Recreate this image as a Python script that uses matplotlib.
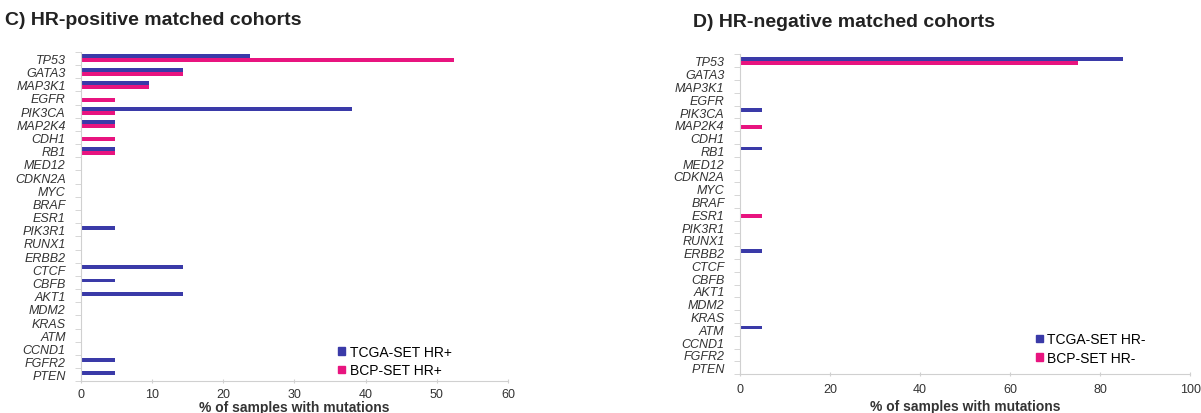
import numpy as np
import matplotlib
matplotlib.use('Agg')
import matplotlib.pyplot as plt
from matplotlib.patches import Patch

plt.rcParams['font.family'] = ['Liberation Sans', 'DejaVu Sans']

genes = ['TP53', 'GATA3', 'MAP3K1', 'EGFR', 'PIK3CA', 'MAP2K4', 'CDH1', 'RB1',
         'MED12', 'CDKN2A', 'MYC', 'BRAF', 'ESR1', 'PIK3R1', 'RUNX1', 'ERBB2',
         'CTCF', 'CBFB', 'AKT1', 'MDM2', 'KRAS', 'ATM', 'CCND1', 'FGFR2', 'PTEN']

# HR-positive cohorts (% of samples)
tcga_pos = [23.8, 14.3, 9.5, 0, 38.1, 4.8, 0, 4.8, 0, 0, 0, 0, 0, 4.8, 0, 0,
            14.3, 4.8, 14.3, 0, 0, 0, 0, 4.8, 4.8]
bcp_pos = [52.4, 14.3, 9.5, 4.8, 4.8, 4.8, 4.8, 4.8, 0, 0, 0, 0, 0, 0, 0, 0,
           0, 0, 0, 0, 0, 0, 0, 0, 0]

# HR-negative cohorts
genes_neg = ['TP53', 'GATA3', 'MAP3K1', 'EGFR', 'PIK3CA', 'MAP2K4', 'CDH1', 'RB1',
             'MED12', 'CDKN2A', 'MYC', 'BRAF', 'ESR1', 'PIK3R1', 'RUNX1', 'ERBB2',
             'CTCF', 'CBFB', 'AKT1', 'MDM2', 'KRAS', 'ATM', 'CCND1', 'FGFR2', 'PTEN']
tcga_neg = [85, 0, 0, 0, 5, 0, 0, 5, 0, 0, 0, 0, 0, 0, 0, 5,
            0, 0, 0, 0, 0, 5, 0, 0, 0]
bcp_neg = [75, 0, 0, 0, 0, 5, 0, 0, 0, 0, 0, 0, 5, 0, 0, 0,
           0, 0, 0, 0, 0, 0, 0, 0, 0]

blue = '#3a3aa8'
pink = '#e8147f'
grey = '#d0d0d0'
txt = '#333333'


def panel(ax, labels, a, b, xmax, step, names, leg_pos, xpad=5, lpad=3):
    y = np.arange(len(labels))
    h = 0.3
    ax.barh(y - h / 2, a, height=h, color=blue)
    ax.barh(y + h / 2, b, height=h, color=pink)
    ax.set_ylim(len(labels) - 0.5, -0.5)
    ax.set_xlim(0, xmax)
    ax.set_xticks(np.arange(0, xmax + 1, step))
    ax.set_yticks(y)
    ax.set_yticklabels(labels, fontstyle='italic', fontsize=9, color=txt)
    ax.set_yticks(np.arange(-0.5, len(labels)), minor=True)
    ax.tick_params(axis='y', which='major', length=0, pad=11)
    ax.tick_params(axis='y', which='minor', length=4, color=grey)
    ax.tick_params(axis='x', length=3, color=grey, labelsize=9, labelcolor=txt,
                   direction='inout', pad=xpad)
    for s in ['top', 'right']:
        ax.spines[s].set_visible(False)
    for s in ['left', 'bottom']:
        ax.spines[s].set_color(grey)
    ax.set_xlabel('% of samples with mutations', fontsize=10, fontweight='bold',
                  color=txt, labelpad=lpad)
    handles = [Patch(color=blue), Patch(color=pink)]
    ax.legend(handles, names, loc='lower left', bbox_to_anchor=leg_pos,
              frameon=False, fontsize=10, handlelength=0.5, handleheight=0.5,
              handletextpad=0.3, labelspacing=0.35, borderaxespad=0)


fig = plt.figure(figsize=(12.01, 4.14), dpi=100)
ax1 = fig.add_axes([0.0674, 0.0765, 0.3556, 0.796])
ax2 = fig.add_axes([0.616, 0.094, 0.375, 0.772])

panel(ax1, genes, tcga_pos, bcp_pos, 60, 10,
      ['TCGA-SET HR+', 'BCP-SET HR+'], (0.59, -0.005), xpad=3, lpad=0)
panel(ax2, genes_neg, tcga_neg, bcp_neg, 100, 20,
      ['TCGA-SET HR-', 'BCP-SET HR-'], (0.645, 0.01))

fig.text(0.004, 0.95, 'C) HR-positive matched cohorts', fontsize=14,
         fontweight='bold', color='#222222', va='center')
fig.text(0.577, 0.945, 'D) HR-negative matched cohorts', fontsize=14,
         fontweight='bold', color='#222222', va='center')

fig.savefig('out.png', dpi=100)
